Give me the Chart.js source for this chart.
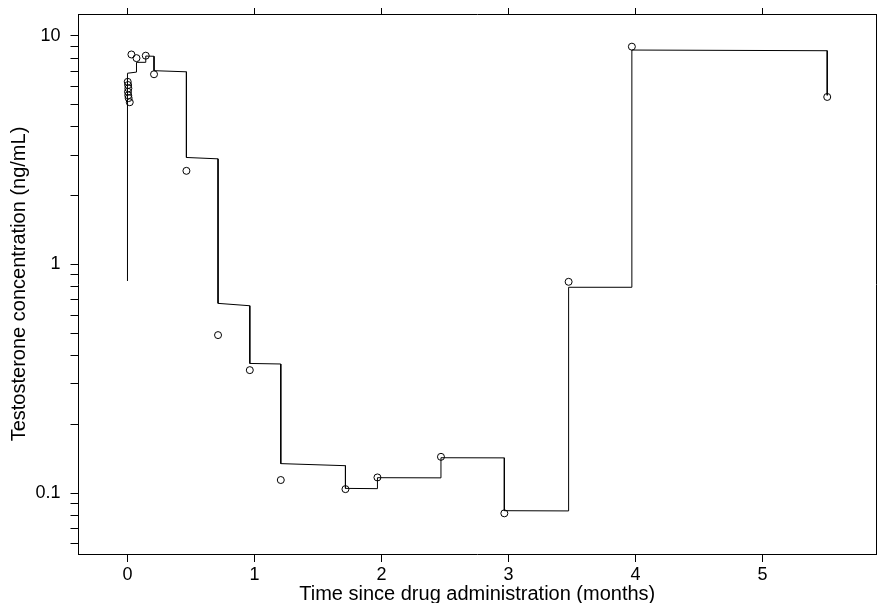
<!DOCTYPE html>
<html>
<head>
<meta charset="utf-8">
<script src="https://cdn.jsdelivr.net/npm/chart.js@4/dist/chart.umd.min.js"></script>
<style>
  body { margin: 0; background: #fff; }
  #wrap { width: 877px; height: 603px; }
</style>
</head>
<body>
<div id="wrap"><canvas id="myChart" width="877" height="603"></canvas></div>
<script>
// observed values (circles)
const obsTime = [0.002, 0.004, 0.005, 0.006, 0.007, 0.009, 0.018, 0.031, 0.071, 0.144, 0.209,
  0.464, 0.713, 0.963, 1.207, 1.716, 1.968, 2.468, 2.967, 3.473, 3.971, 5.509];
const obsConc = [6.3, 5.7, 6.1, 5.5, 5.9, 5.35, 5.13, 8.3, 8.0, 8.2, 6.8,
  2.57, 0.491, 0.345, 0.114, 0.104, 0.117, 0.144, 0.0815, 0.84, 8.98, 5.41];

// predicted profile (line)
const lineTime = [0, 0, 0.071, 0.071, 0.144, 0.144, 0.209, 0.209, 0.464, 0.464, 0.713, 0.713,
  0.963, 0.963, 1.207, 1.207, 1.716, 1.716, 1.968, 1.968, 2.468, 2.468, 2.967, 2.967,
  3.473, 3.473, 3.971, 3.971, 5.509, 5.509];
const lineConc = [0.847, 6.87, 6.95, 7.67, 7.67, 8.17, 8.15, 7.05, 6.97, 2.94, 2.9, 0.676,
  0.66, 0.369, 0.367, 0.1345, 0.1317, 0.1048, 0.1045, 0.1167, 0.1165, 0.1427, 0.1425, 0.0837,
  0.0835, 0.795, 0.795, 8.68, 8.62, 5.5];

// axes
const xTicks = [0, 1, 2, 3, 4, 5];
const yTicks = [0.06, 0.07, 0.08, 0.09, 0.1, 0.2, 0.3, 0.4, 0.5, 0.6, 0.7, 0.8, 0.9,
  1, 2, 3, 4, 5, 6, 7, 8, 9, 10];
const yLabels = [0.1, 1, 10];

const police = "'Liberation Sans', Arial, sans-serif";

// fixe la taille de chaque axe, sans marge auto
function taille(w, h) {
  return (s) => {
    if (w !== null) s.width = w;
    if (h !== null) s.height = h;
    s.paddingLeft = 0;
    s.paddingRight = 0;
    s.paddingTop = 0;
    s.paddingBottom = 0;
  };
}

const data = {
  datasets: [
    {
      label: "observed",
      data: obsTime.map((t, i) => ({ x: t, y: obsConc[i] })),
      showLine: false,
      pointRadius: 3.5,
      pointBorderWidth: 1,
      pointBorderColor: "#000",
      pointBackgroundColor: "rgba(0,0,0,0)",
    },
    {
      label: "predicted",
      data: lineTime.map((t, i) => ({ x: t, y: lineConc[i] })),
      showLine: true,
      borderColor: "#000",
      borderWidth: 1,
      pointRadius: 0,
    },
  ],
};

const config = {
  type: "scatter",
  data: data,
  options: {
    responsive: false,
    animation: false,
    plugins: { legend: false, tooltip: { enabled: false } },
    layout: { padding: 0, autoPadding: false },
    scales: {
      x: {
        type: "linear",
        position: "bottom",
        min: -0.3856,
        max: 5.893,
        afterBuildTicks: (s) => { s.ticks = xTicks.map((v) => ({ value: v })); },
        afterFit: taille(null, 49),
        grid: { drawOnChartArea: false, drawTicks: true, tickLength: 8, color: "#000" },
        border: { color: "#000", width: 1 },
        ticks: { color: "#000", font: { family: police, size: 18 }, padding: 2, maxRotation: 0 },
        title: {
          display: true,
          text: "Time since drug administration (months)",
          color: "#000",
          font: { family: police, size: 20, lineHeight: 1 },
          padding: { top: 0, bottom: -1 },
        },
      },
      x2: {
        type: "linear",
        position: "top",
        min: -0.3856,
        max: 5.893,
        afterBuildTicks: (s) => { s.ticks = xTicks.map((v) => ({ value: v })); },
        afterFit: taille(null, 14),
        grid: { drawOnChartArea: false, drawTicks: true, tickLength: 6, color: "#000" },
        border: { color: "#000", width: 1 },
        ticks: { display: false },
      },
      y: {
        type: "logarithmic",
        position: "left",
        min: 0.0541,
        max: 12.48,
        afterBuildTicks: (s) => { s.ticks = yTicks.map((v) => ({ value: v })); },
        afterFit: taille(78.5, null),
        grid: { drawOnChartArea: false, drawTicks: true, tickLength: 8, color: "#000" },
        border: { color: "#000", width: 1 },
        ticks: {
          color: "#000",
          font: { family: police, size: 18 },
          padding: 10,
          autoSkip: false,
          callback: (v) => (yLabels.includes(v) ? String(v) : ""),
        },
        title: {
          display: true,
          text: "Testosterone concentration (ng/mL)",
          color: "#000",
          font: { family: police, size: 20, lineHeight: 1 },
          padding: 9,
        },
      },
      y2: {
        type: "linear",
        position: "right",
        afterFit: taille(1, null),
        grid: { display: false },
        border: { color: "#000", width: 1 },
        ticks: { display: false },
      },
    },
  },
};

let context = document.getElementById("myChart").getContext("2d");
let chart = new Chart(context, config);
</script>
</body>
</html>
